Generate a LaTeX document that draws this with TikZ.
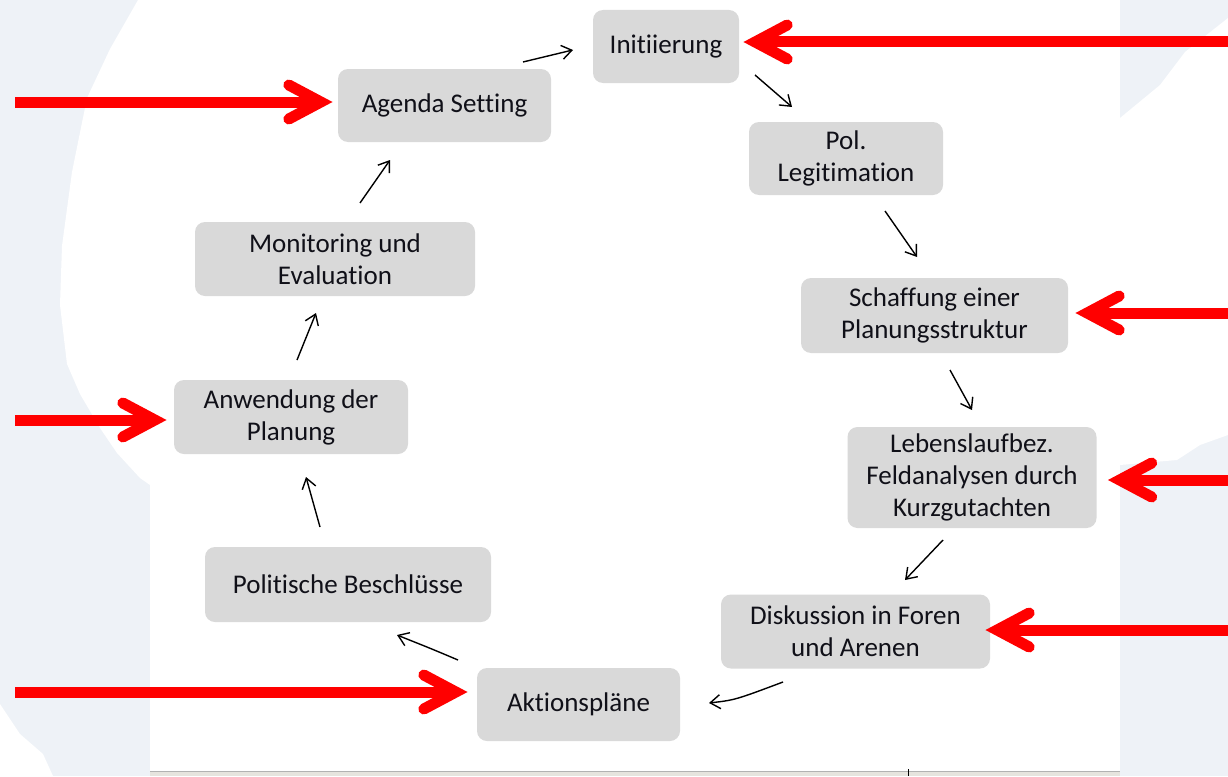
\documentclass[tikz,border=0pt]{standalone}
\usepackage{fontspec}
\setmainfont{Carlito}[Ligatures={NoCommon,NoContextual}]
\usetikzlibrary{calc,arrows.meta}
\definecolor{bgblue}{HTML}{EEF2F7}
\definecolor{boxgray}{HTML}{D9D9D9}
\definecolor{txt}{HTML}{101018}
\definecolor{redarr}{HTML}{FF0000}
\definecolor{bottomgray}{HTML}{E6E4DE}
\newcommand\RedArrow[3]{%
  \draw[redshaft] (#1) -- (#2);
  \draw[redhead] ($(#2)+({-32*#3},-17)$) -- (#2) -- ($(#2)+({-32*#3},17)$);}
\begin{document}
\begin{tikzpicture}[x=1pt,y=-1pt,
  stage/.style={fill=boxgray, rounded corners=10pt, align=center, inner sep=0pt,
                text=txt, font=\fontsize{27}{32}\selectfont},
  flow/.style={line width=1.4pt, black, -{Straight Barb[length=10pt,width=14pt]}},
  redshaft/.style={line width=11pt, draw=redarr, line cap=butt},
  redhead/.style={line width=11pt, draw=redarr, line cap=round, line join=miter}]
\useasboundingbox (0,0) rectangle (1228,776);
% background
\fill[bgblue] (0,0) rectangle (1228,776);
\fill[white] (150,0) rectangle (1120,771);
\fill[white] (138,0) -- (110,49) -- (87,98) -- (72,172) -- (62,246) -- (60,305)
  -- (67,364) -- (80,394) -- (100,428) -- (117,453) -- (140,478) -- (150,485) -- (150,0) -- cycle;
\fill[white] (0,704) -- (20,734) -- (43,754) -- (53,776) -- (0,776) -- cycle;
\fill[white] (1120,118) -- (1160,85) -- (1185,52) -- (1228,18) -- (1228,435)
  -- (1200,445) -- (1177,460) -- (1120,465) -- cycle;
\fill[bottomgray] (150,771) rectangle (1120,776);
\draw[gray!60, line width=1pt] (150,771) -- (1120,771);
\draw[black, line width=1pt] (908,769) -- (908,776);
% stages
\node[stage, minimum width=146pt, minimum height=73pt] (init)   at (666,46.5)   {Initiierung};
\node[stage, minimum width=213pt, minimum height=73pt] (agenda) at (444.5,105.5) {Agenda Setting};
\node[stage, minimum width=194pt, minimum height=73pt] (pol)    at (846,158.5)  {Pol.\\Legitimation};
\node[stage, minimum width=280pt, minimum height=74pt] (moni)   at (335,259)    {Monitoring und\\Evaluation};
\node[stage, minimum width=267pt, minimum height=75pt] (schaff) at (934.5,315.5) {Schaffung einer\\Planungsstruktur};
\node[stage, minimum width=234pt, minimum height=74pt] (anw)    at (291,417)    {Anwendung der\\Planung};
\node[stage, minimum width=249pt, minimum height=101pt] (lebens) at (972,477.5) {Lebenslaufbez.\\Feldanalysen durch\\Kurzgutachten};
\node[stage, minimum width=286pt, minimum height=75pt] (polb)   at (348,584.5)  {Politische Beschlüsse};
\node[stage, minimum width=269pt, minimum height=74pt] (disk)   at (855.5,631.5) {Diskussion in Foren\\und Arenen};
\node[stage, minimum width=203pt, minimum height=73pt] (aktion) at (578.5,704.5) {Aktionspläne};
% cycle arrows
\draw[flow] ($(agenda)+(78.5,-43.5)$) .. controls ($(agenda)+(102,-50)$) .. ($(init)+(-93,3.5)$);
\draw[flow] ($(init)+(89,28.5)$) -- ($(pol)+(-54,-51.5)$);
\draw[flow] ($(pol)+(39,52.5)$) -- ($(schaff)+(-17.5,-58.5)$);
\draw[flow] ($(schaff)+(15.5,54.5)$) -- ($(lebens)+(0,-67.5)$);
\draw[flow] ($(lebens)+(-29,62.5)$) -- ($(disk)+(49.5,-51.5)$);
\draw[flow] ($(disk)+(-72.5,50.5)$) .. controls ($(aktion)+(156.5,-4.5)$) .. ($(aktion)+(130.5,-1.5)$);
\draw[flow] ($(aktion)+(-120.5,-44.5)$) .. controls ($(aktion)+(-146.5,-55.5)$) .. ($(polb)+(49,50.5)$);
\draw[flow] ($(polb)+(-28,-57.5)$) -- ($(anw)+(15,60)$);
\draw[flow] ($(anw)+(6,-57)$) -- ($(moni)+(-19,54)$);
\draw[flow] ($(moni)+(25,-56)$) -- ($(agenda)+(-54.5,54.5)$);
% red input arrows
\coordinate (r1s) at (15,102);   \coordinate (r1t) at ($(agenda.west)+(-17,-3.5)$);
\coordinate (r2s) at (1232,42);  \coordinate (r2t) at ($(init.east)+(16,-4.5)$);
\coordinate (r3s) at (1232,313); \coordinate (r3t) at ($(schaff.east)+(19,-2.5)$);
\coordinate (r4s) at (15,420);   \coordinate (r4t) at ($(anw.west)+(-19,3)$);
\coordinate (r5s) at (1232,480); \coordinate (r5t) at ($(lebens.east)+(23,2.5)$);
\coordinate (r6s) at (1232,630); \coordinate (r6t) at ($(disk.east)+(7,-1.5)$);
\coordinate (r7s) at (15,692);   \coordinate (r7t) at ($(aktion.west)+(-21,-12.5)$);
\RedArrow{r1s}{r1t}{1}
\RedArrow{r2s}{r2t}{-1}
\RedArrow{r3s}{r3t}{-1}
\RedArrow{r4s}{r4t}{1}
\RedArrow{r5s}{r5t}{-1}
\RedArrow{r6s}{r6t}{-1}
\RedArrow{r7s}{r7t}{1}
\end{tikzpicture}
\end{document}
